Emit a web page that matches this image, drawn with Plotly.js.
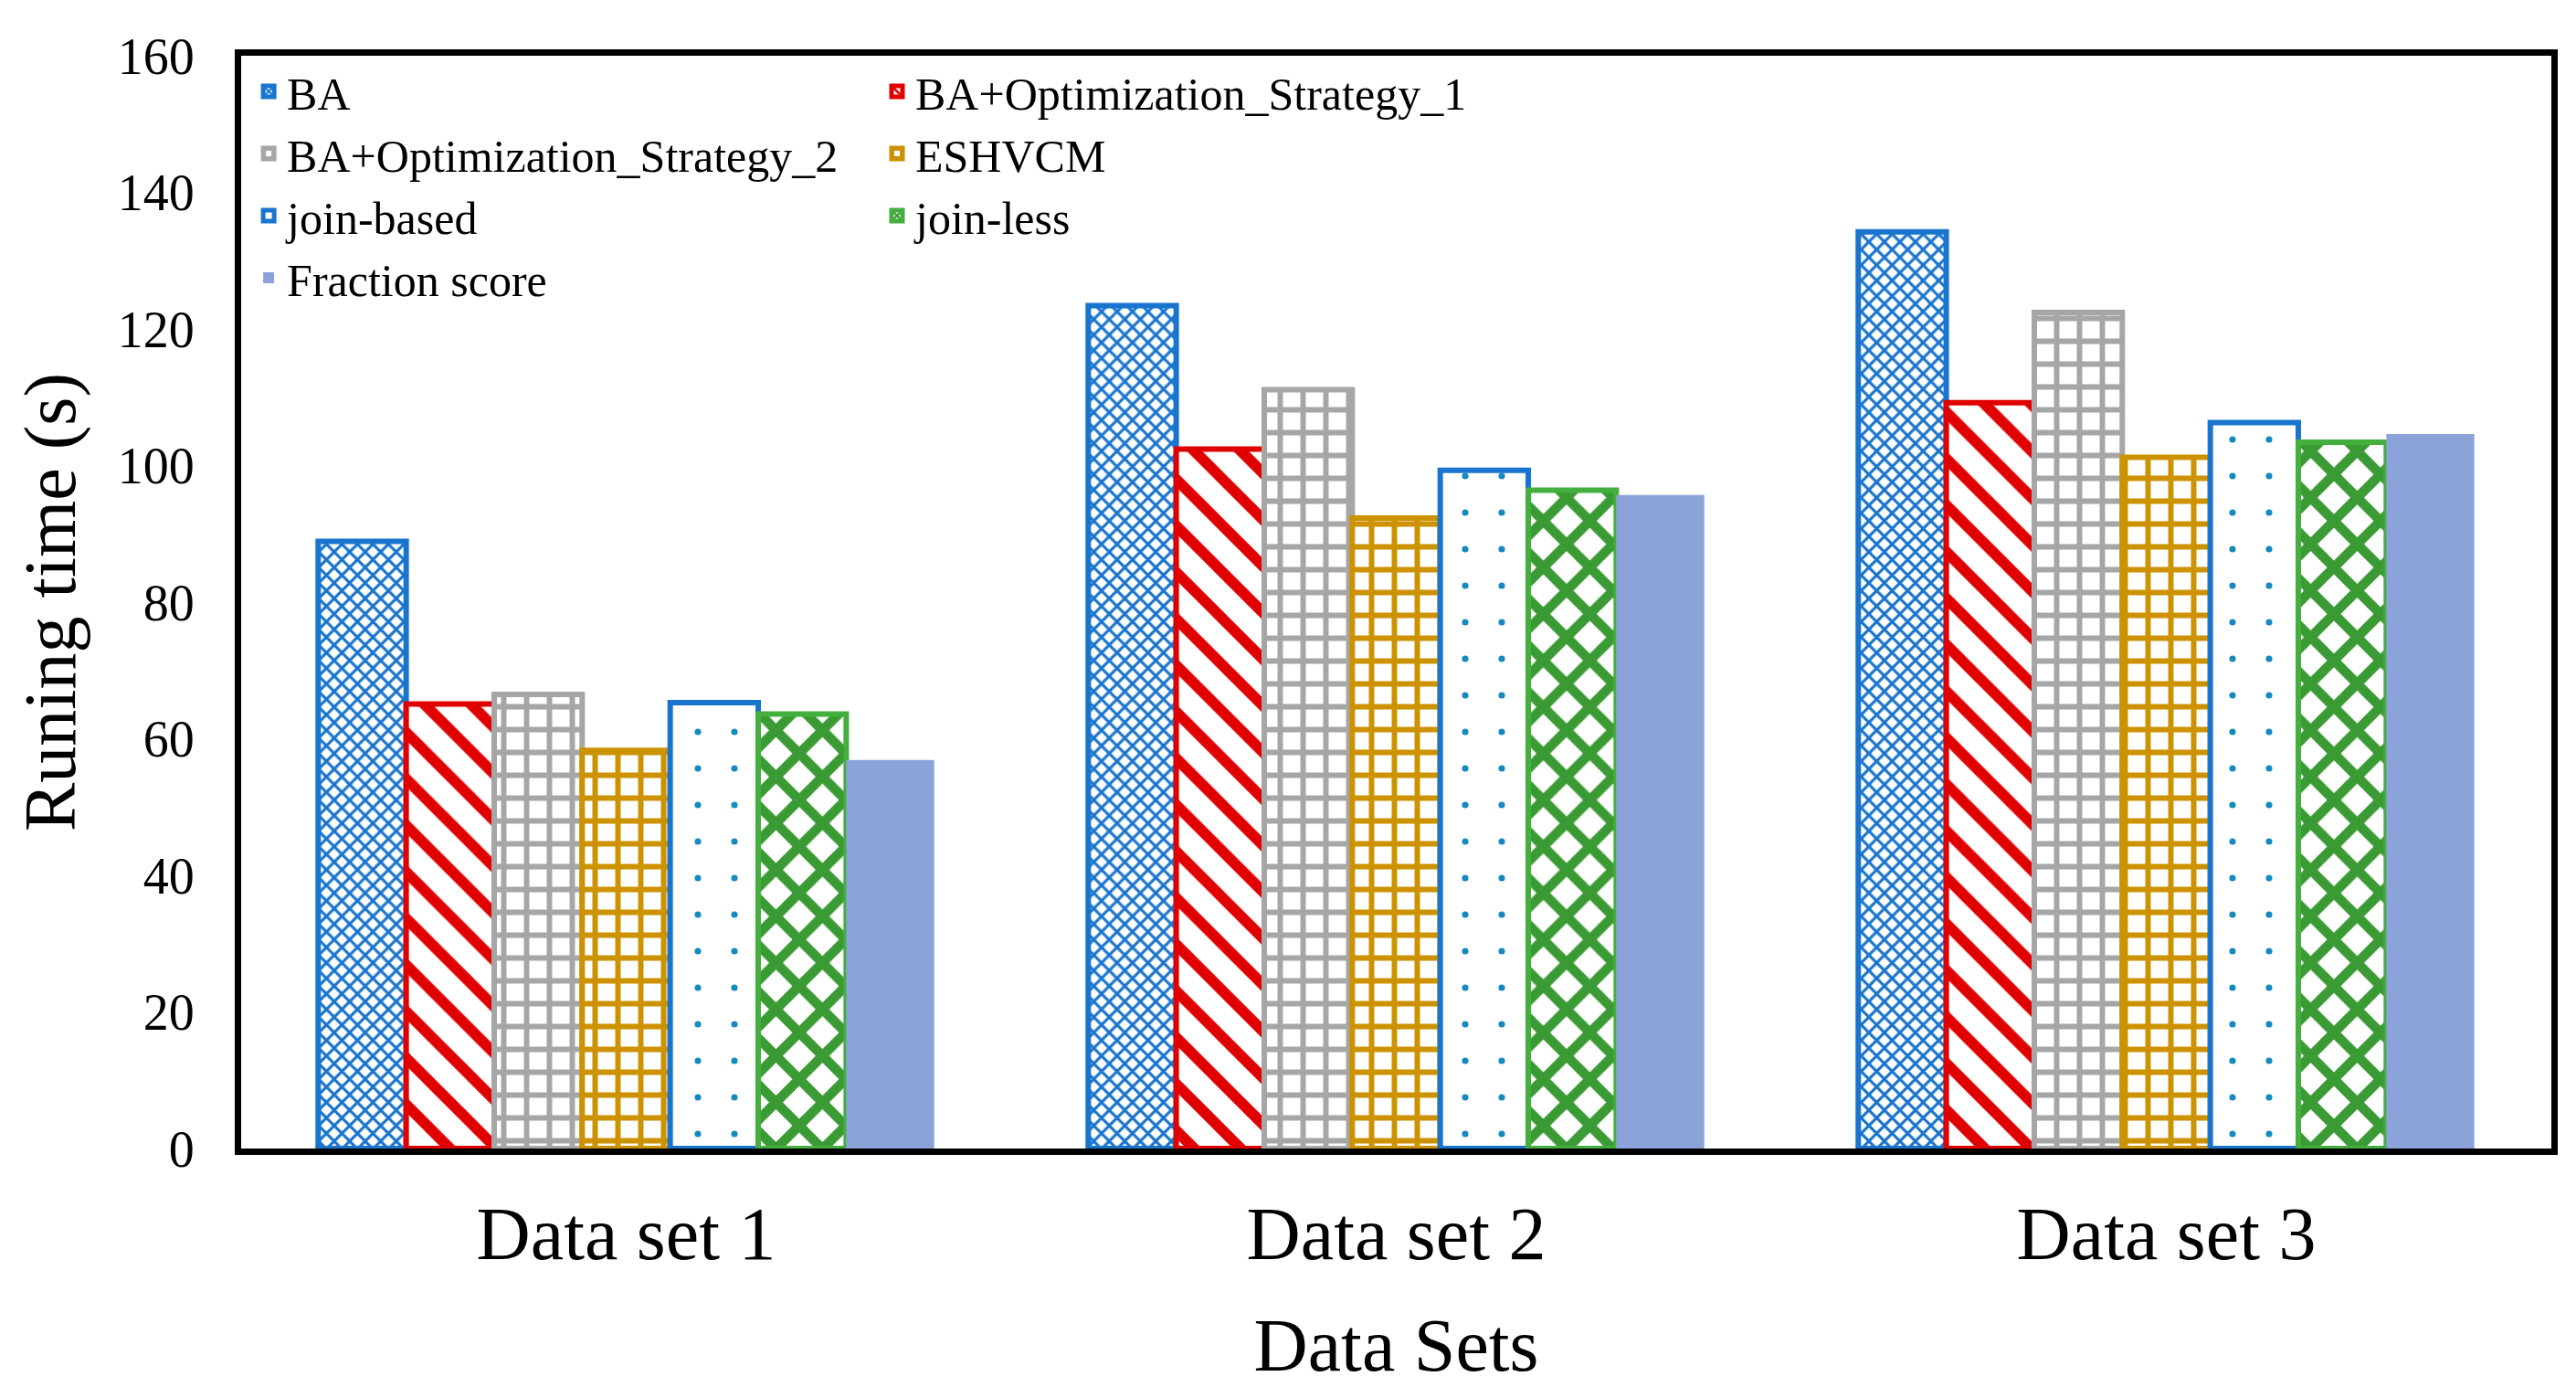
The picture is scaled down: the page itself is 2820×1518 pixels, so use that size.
<!DOCTYPE html>
<html>
<head>
<meta charset="utf-8">
<script src="https://cdn.plot.ly/plotly-3.0.1.min.js"></script>
<style>html,body{margin:0;padding:0;background:#fff;}#chart{width:2820px;height:1518px;}</style>
</head>
<body>
<div id="chart"></div>
<script>
const categories = ["Data set 1", "Data set 2", "Data set 3"];
const seriesNames = ["BA", "BA+Optimization_Strategy_1", "BA+Optimization_Strategy_2", "ESHVCM", "join-based", "join-less", "Fraction score"];
const BA = [88.9, 123.4, 134.2];
const opt1 = [65.1, 102.4, 109.2];
const opt2 = [66.5, 111.1, 122.4];
const eshvcm = [58.3, 92.3, 101.2];
const joinBased = [65.3, 99.3, 106.3];
const joinLess = [63.6, 96.4, 103.4];
const fraction = [56.9, 95.7, 104.6];
const yTicks = [0, 20, 40, 60, 80, 100, 120, 140, 160];

const seriesValues = [BA, opt1, opt2, eshvcm, joinBased, joinLess, fraction];
const styles = [
  {line: '#1874CD', fg: '#1874CD', shape: 'x', size: 12, solid: 0.45, legend: 'legend'},
  {line: '#E00000', fg: '#E00000', shape: '\\', size: 36, solid: 0.33, legend: 'legend2'},
  {line: '#A6A6A6', fg: '#A6A6A6', shape: '+', size: 25, solid: 0.42, legend: 'legend'},
  {line: '#CC9200', fg: '#CC9200', shape: '+', size: 25, solid: 0.42, legend: 'legend2'},
  {line: '#1874CD', fg: '#168ABF', shape: '.', size: 40, solid: 0.025, legend: 'legend'},
  {line: '#44AE3E', fg: '#3A9A33', shape: 'x', size: 36, solid: 0.5, legend: 'legend2'},
  {line: '#8BA3D8', fg: '#8BA3D8', shape: '', size: 10, solid: 0.3, legend: 'legend'}
];

const font = '"Liberation Serif", "Times New Roman", serif';

const traces = seriesNames.map((name, i) => {
  const s = styles[i];
  const marker = {color: i === 6 ? '#8BA3D8' : '#FFFFFF', line: {color: s.line, width: i === 6 ? 0 : 6}};
  if (s.shape) {
    marker.pattern = {shape: s.shape, fgcolor: s.fg, fgopacity: 1, bgcolor: '#FFFFFF', size: s.size, solidity: s.solid, fillmode: 'replace'};
  }
  return {type: 'bar', name: name, x: categories, y: seriesValues[i], marker: marker, legend: s.legend};
});

const legendCommon = {
  font: {family: font, size: 50, color: '#000'},
  bgcolor: 'rgba(0,0,0,0)', borderwidth: 0,
  xanchor: 'left', yanchor: 'top', orientation: 'v', tracegroupgap: 0
};

const layout = {
  width: 2820, height: 1518,
  paper_bgcolor: '#fff', plot_bgcolor: '#fff',
  margin: {l: 264, r: 27, t: 61, b: 261},
  barmode: 'group', bargap: 0.2, bargroupgap: 0,
  font: {family: font, color: '#000'},
  showlegend: true,
  legend: Object.assign({}, legendCommon, {x: 0.004, y: 1.0}),
  legend2: Object.assign({}, legendCommon, {x: 0.276, y: 1.0}),
  xaxis: {
    type: 'category', range: [-0.5, 2.5],
    showline: true, linecolor: '#000', linewidth: 7, mirror: true,
    ticks: 'outside', ticklen: 16, tickcolor: 'rgba(0,0,0,0)',
    tickfont: {family: font, size: 82, color: '#000'},
    title: {text: 'Data Sets', font: {family: font, size: 82, color: '#000'}, standoff: 66},
    showgrid: false, zeroline: false
  },
  yaxis: {
    range: [0, 160], tickvals: yTicks, ticktext: yTicks.map(String),
    showline: true, linecolor: '#000', linewidth: 7, mirror: true,
    ticks: 'outside', ticklen: 33, tickcolor: 'rgba(0,0,0,0)',
    tickfont: {family: font, size: 56, color: '#000'},
    title: {text: 'Runing time (s)', font: {family: font, size: 80, color: '#000'}, standoff: 22},
    showgrid: false, zeroline: false
  }
};

Plotly.newPlot('chart', traces, layout, {displayModeBar: false, staticPlot: true});
</script>
</body>
</html>
